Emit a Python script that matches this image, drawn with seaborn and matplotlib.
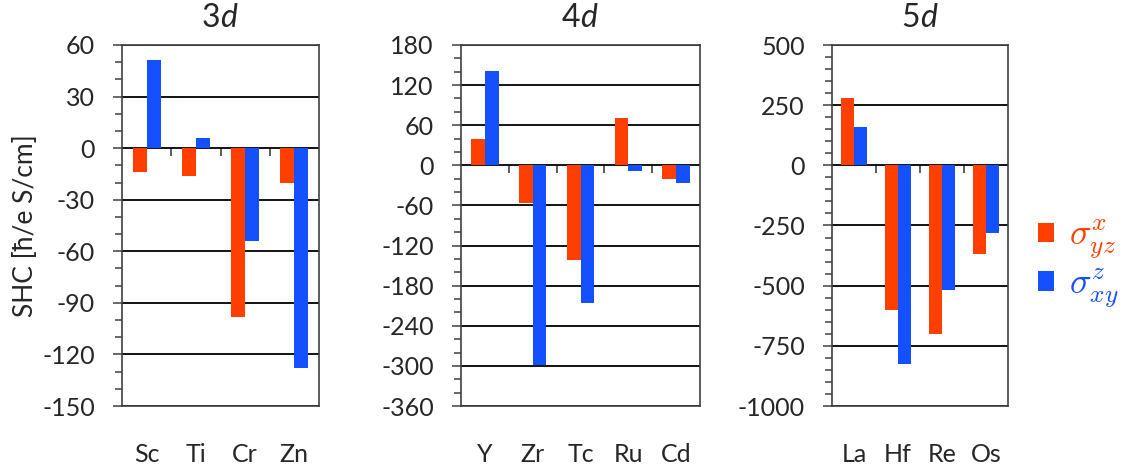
import matplotlib
matplotlib.use('Agg')
import matplotlib.pyplot as plt
from matplotlib.ticker import MultipleLocator
from matplotlib.font_manager import FontProperties
import seaborn as sns
import pandas as pd

# Componentes del SHC y sus colores
componentes = [r'$\sigma^x_{yz}$', r'$\sigma^z_{xy}$']
colores = ['#FF3F00', '#1550FF']

# Metales 3d
elem_3d = ['Sc', 'Ti', 'Cr', 'Zn']
yz_3d = [-14, -16, -98, -20]
xy_3d = [51, 6, -54, -128]

# Metales 4d
elem_4d = ['Y', 'Zr', 'Tc', 'Ru', 'Cd']
yz_4d = [39, -56, -141, 71, -21]
xy_4d = [141, -298, -206, -9, -26]

# Metales 5d
elem_5d = ['La', 'Hf', 'Re', 'Os']
yz_5d = [279, -601, -702, -367]
xy_5d = [161, -826, -516, -283]

sns.set_style('white')
plt.rcParams['font.family'] = ['Lato', 'DejaVu Sans']
plt.rcParams['axes.unicode_minus'] = False

W, H = 1126, 473
fig = plt.figure(figsize=(W / 100, H / 100), dpi=100)

# (periodo, elementos, yz, xy, limites, paso mayor, paso menor, izquierda px, ancho px)
paneles = [
    ('3', elem_3d, yz_3d, xy_3d, (-150, 60), 30, 10, 122, 197),
    ('4', elem_4d, yz_4d, xy_4d, (-360, 180), 60, 20, 461, 239),
    ('5', elem_5d, yz_5d, xy_5d, (-1000, 500), 250, 50, 832, 176),
]

marco = '#404040'
top_px, bot_px = 45, 406

ejes = []
for i, (periodo, elems, yz, xy, lims, mayor, menor, x0, w) in enumerate(paneles):
    ax = fig.add_axes([x0 / W, 1 - bot_px / H, w / W, (bot_px - top_px) / H])
    n = len(elems)
    df = pd.DataFrame({
        'elemento': elems * 2,
        'componente': [componentes[0]] * n + [componentes[1]] * n,
        'valor': yz + xy,
    })
    sns.barplot(data=df, x='elemento', y='valor', hue='componente',
                hue_order=componentes, palette=colores, width=0.57,
                saturation=1, linewidth=0, errorbar=None,
                legend=(i == 2), ax=ax)

    ax.set_xlim(-0.5, n - 0.5)
    ax.set_ylim(*lims)
    ax.set_xlabel('')
    ax.set_ylabel('')

    # Titulo: numero recto + "d" en cursiva
    ax.text(0.5, 1.05, periodo, transform=ax.transAxes, ha='right',
            va='baseline', fontsize=23)
    ax.text(0.5, 1.05, 'd', transform=ax.transAxes, ha='left',
            va='baseline', fontsize=23, fontstyle='italic')

    ax.yaxis.set_major_locator(MultipleLocator(mayor))
    ax.yaxis.set_minor_locator(MultipleLocator(menor))
    ax.tick_params(axis='y', which='major', direction='out', length=6.5,
                   width=1.1, color=marco, labelsize=18, pad=13, left=True)
    ax.tick_params(axis='y', which='minor', direction='out', length=5,
                   width=1.1, color=marco, left=True)
    ax.tick_params(axis='x', length=0, labelsize=18, pad=27)

    ax.yaxis.grid(True, which='major', color='black', lw=1.3)
    ax.set_axisbelow(True)
    for s in ax.spines.values():
        s.set_color(marco)
        s.set_linewidth(1.2)

    # Marcas de separacion entre categorias sobre la linea del cero
    frac0 = (0 - lims[0]) / (lims[1] - lims[0])
    sec = ax.secondary_xaxis(frac0)
    sec.set_alignment('bottom')
    sec.set_xticks([k + 0.5 for k in range(n - 1)], labels=[''] * (n - 1))
    sec.tick_params(direction='out', length=6, width=1.2, color=marco)
    for s in sec.spines.values():
        s.set_visible(False)

    ejes.append(ax)

ejes[0].set_ylabel('SHC [ħ/e S/cm]', fontsize=19, labelpad=3)

# Leyenda a la derecha
handles, labels = ejes[2].get_legend_handles_labels()
ejes[2].get_legend().remove()
leg = fig.legend(handles, labels, loc='center left',
                 bbox_to_anchor=(1038 / W, 1 - 264 / H),
                 frameon=False, prop=FontProperties(size=26, math_fontfamily='cm'),
                 handlelength=0.45, handleheight=0.45, handletextpad=0.4,
                 labelspacing=0.15, borderpad=0, borderaxespad=0)
for t, c in zip(leg.get_texts(), colores):
    t.set_color(c)
    t.set_math_fontfamily('cm')

fig.savefig('out.png', dpi=100)
